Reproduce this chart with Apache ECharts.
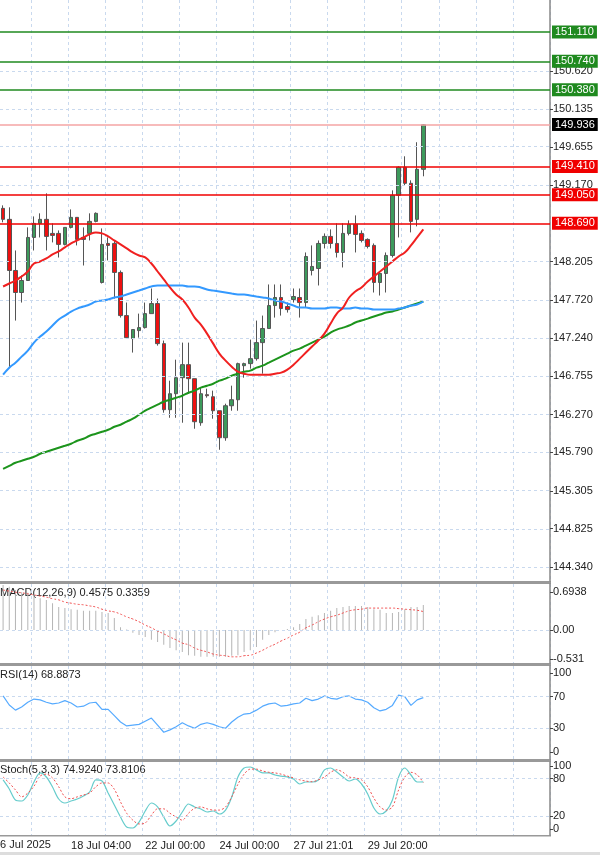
<!DOCTYPE html>
<html>
<head>
<meta charset="utf-8">
<script src="https://cdn.jsdelivr.net/npm/echarts@6/dist/echarts.min.js"></script>
<style>html,body{margin:0;padding:0;background:#fff}#main{width:600px;height:855px}</style>
</head>
<body>
<div id="main"></div>
<script>
// candles: [open, close, low, high]
var candles = [
  [148.879,148.740,148.702,148.917],[148.740,148.093,146.863,148.892],[148.093,147.814,147.459,148.346],
  [147.814,147.966,147.687,148.030],[147.966,148.511,147.966,148.638],[148.511,148.689,148.346,148.777],
  [148.689,148.740,148.511,148.816],[148.740,148.524,148.346,149.069],[148.562,148.537,148.448,148.689],
  [148.562,148.423,148.257,148.600],[148.423,148.638,148.410,148.638],[148.638,148.765,148.625,148.866],
  [148.765,148.486,148.410,148.765],[148.511,148.486,148.156,148.638],[148.562,148.714,148.473,148.816],
  [148.714,148.816,148.702,148.828],[147.941,148.423,147.928,148.625],[148.435,148.410,148.220,148.511],
  [148.435,148.068,147.738,148.473],[148.068,147.522,147.497,148.093],[147.522,147.243,147.231,147.687],
  [147.231,147.345,147.054,147.345],[147.332,147.370,147.243,147.547],[147.370,147.547,147.358,147.687],
  [147.547,147.674,147.547,147.865],[147.674,147.167,147.142,147.738],[147.167,146.331,146.293,147.206],
  [146.331,146.533,146.229,146.698],[146.533,146.736,146.229,146.964],[146.736,146.901,146.166,147.180],
  [146.901,146.724,146.533,147.180],[146.724,146.179,146.090,146.724],[146.166,146.533,146.128,146.610],
  [146.521,146.508,146.483,146.597],[146.495,146.318,146.217,146.572],[146.318,145.976,145.824,146.318],
  [145.976,146.381,145.938,146.407],[146.381,146.457,146.318,146.635],[146.457,146.914,146.318,146.926],
  [146.888,146.914,146.736,146.926],[146.914,146.977,146.850,147.218],[146.977,147.180,146.952,147.459],
  [147.180,147.358,146.787,147.522],[147.358,147.649,147.358,147.916],[147.649,147.751,147.497,147.916],
  [147.751,147.611,147.522,147.916],[147.637,147.598,147.560,147.687],[147.725,147.763,147.687,147.865],
  [147.751,147.687,147.497,147.865],[147.687,148.270,147.624,148.321],[148.093,148.144,148.030,148.410],
  [148.118,148.435,147.903,148.473],[148.435,148.524,148.372,148.562],[148.524,148.435,148.372,148.613],
  [148.435,148.321,148.257,148.689],[148.321,148.562,148.131,148.689],[148.562,148.676,148.537,148.727],
  [148.676,148.549,148.321,148.790],[148.562,148.473,148.448,148.600],[148.486,148.397,148.372,148.499],
  [148.410,147.941,147.814,148.435],[147.941,148.055,147.776,148.068],[148.055,148.283,147.814,148.321],
  [148.283,149.044,148.257,149.107],[149.044,149.399,148.511,149.411],[149.399,149.196,149.170,149.538],
  [149.196,148.714,148.575,149.234],[148.740,149.373,148.651,149.716],[149.373,149.936,149.285,149.945]
];
var maRed = [147.890,147.928,147.966,148.017,148.080,148.181,148.207,148.245,148.296,148.334,148.385,148.435,
  148.473,148.511,148.549,148.575,148.562,148.524,148.473,148.423,148.372,148.321,148.283,148.258,148.181,
  148.080,147.979,147.878,147.789,147.725,147.624,147.497,147.408,147.294,147.167,147.041,146.952,146.876,
  146.812,146.787,146.774,146.774,146.774,146.774,146.787,146.800,146.838,146.901,146.977,147.054,147.130,
  147.206,147.294,147.421,147.548,147.624,147.751,147.827,147.878,147.954,148.017,148.080,148.144,148.207,
  148.270,148.321,148.410,148.511,148.613];
var maBlue = [146.774,146.863,146.926,147.003,147.079,147.180,147.256,147.320,147.396,147.472,147.522,147.573,
  147.611,147.637,147.662,147.700,147.713,147.725,147.751,147.763,147.789,147.814,147.839,147.865,147.890,
  147.903,147.903,147.903,147.903,147.903,147.890,147.890,147.878,147.852,147.839,147.827,147.814,147.801,
  147.789,147.789,147.776,147.763,147.751,147.738,147.713,147.700,147.675,147.649,147.624,147.624,147.611,
  147.611,147.611,147.624,147.624,147.611,147.611,147.624,147.611,147.611,147.598,147.598,147.598,147.598,
  147.611,147.624,147.649,147.662,147.700];
var maGreen = [145.583,145.621,145.659,145.684,145.710,145.735,145.773,145.798,145.824,145.849,145.874,145.900,
  145.938,145.963,146.001,146.026,146.052,146.077,146.115,146.141,146.179,146.217,146.267,146.318,146.356,
  146.394,146.432,146.457,146.483,146.508,146.546,146.572,146.610,146.635,146.660,146.698,146.724,146.762,
  146.787,146.812,146.825,146.863,146.888,146.926,146.965,147.003,147.041,147.079,147.104,147.142,147.180,
  147.218,147.256,147.307,147.345,147.370,147.396,147.434,147.459,147.484,147.510,147.535,147.560,147.573,
  147.598,147.624,147.649,147.675,147.700];
var macdHist = [0.82,0.79,0.73,0.69,0.68,0.62,0.58,0.55,0.49,0.42,0.40,0.38,0.37,0.35,0.35,0.35,0.33,0.31,0.22,
  0.05,0.01,-0.05,-0.09,-0.13,-0.18,-0.22,-0.27,-0.33,-0.37,-0.40,-0.46,-0.47,-0.49,-0.49,-0.49,-0.49,-0.49,
  -0.47,-0.46,-0.40,-0.37,-0.31,-0.18,-0.09,-0.04,0.0,0.02,0.05,0.11,0.20,0.24,0.27,0.31,0.35,0.40,0.42,0.44,
  0.44,0.44,0.42,0.38,0.37,0.31,0.31,0.33,0.38,0.42,0.42,0.4575];
var macdSignal = [0.73,0.71,0.69,0.68,0.66,0.64,0.62,0.60,0.57,0.55,0.51,0.49,0.47,0.46,0.44,0.42,0.38,0.35,
  0.33,0.29,0.24,0.20,0.15,0.09,0.04,-0.02,-0.07,-0.13,-0.18,-0.24,-0.27,-0.33,-0.37,-0.40,-0.44,-0.46,-0.47,
  -0.49,-0.49,-0.47,-0.46,-0.42,-0.37,-0.31,-0.26,-0.20,-0.15,-0.09,-0.04,0.04,0.09,0.15,0.20,0.24,0.27,0.31,
  0.35,0.37,0.38,0.40,0.40,0.40,0.40,0.40,0.39,0.38,0.37,0.36,0.3359];
var rsi = [71,59.5,53,57,63,67,66,63,61,62,65,62,57,58,62,63,54,54,46,38,33,34,35,39,43,34,25,28,32,37,33,30,
  35,37,35,32,30,38,44,48,49,53,58,61,62,58,59,61,62,68,65,67,71,68,67,70,71,67,66,63,56,52,54,59,72,70,59,66,68.9];
var stochK = [77.8,63.5,46,44.4,54,74.6,88.9,82.5,66.7,47.6,41.3,44.4,47.6,52.4,58.7,77.8,76.2,57,38,19,3.2,1.6,
  11,28.6,41.3,35,19,4.8,12.7,27,39.7,35,31.7,27,28.6,23.8,30,50.8,82.5,96.8,98.4,93.7,88.9,88.9,85.7,84,82.5,
  79.4,71.4,74.6,74.6,77.8,93.7,96.8,90.5,82.5,76.2,79.4,71.4,55.6,33.3,23.8,28.6,46,82.5,96.8,85.7,74.6,74.9];
var stochD = [82.5,73,62,51,57,68,84,87,81,67,51,48,51,54,57,67,73,73,63,43,25,14,8,9.5,22,32,32,25,19,14,25,33,
  35,32,30,30,35,51,71,87,95,95,92,90,89,87,84,81,78,76,75,78,82.5,90,94,90,82.5,81,78,67,49,35,30,35,62,82.5,
  90,86,73.8];
var dateLabels = {11:'18 Jul 04:00', 23:'22 Jul 00:00', 35:'24 Jul 00:00', 47:'27 Jul 21:01', 59:'29 Jul 20:00'};
var priceTicks = [144.340,144.825,145.305,145.790,146.270,146.755,147.240,147.720,148.205,149.170,149.655,150.135,150.620];
var greenLevels = [151.110,150.740,150.380];
var redLevels = [149.410,149.050,148.690];
var lastPrice = 149.936;

var slots = 89;
var cats = [];
for (var i = 0; i < slots; i++) cats.push(String(i));

var myChart = echarts.init(document.getElementById('main'));
var font = 'Liberation Sans';
var gridLine = {show: true, lineStyle: {color: '#c9d9ee', type: [3, 3], width: 1}};
var vSplit = {show: true, interval: function (idx) { return idx % 6 === 5; }, lineStyle: gridLine.lineStyle};

function xAx(gi, showLabel) {
    return {
        type: 'category', gridIndex: gi, data: cats, boundaryGap: true,
        axisLine: {show: false}, axisTick: {show: false},
        splitLine: vSplit,
        axisLabel: {
            show: showLabel, interval: 0, align: 'left', margin: 5,
            color: '#222', fontSize: 11, fontFamily: font,
            formatter: function (v, idx) { return dateLabels[idx] || ''; }
        }
    };
}
function yAx(gi, min, max, ticks, fmt) {
    return {
        type: 'value', gridIndex: gi, position: 'right', min: min, max: max, scale: true,
        axisLine: {show: true, lineStyle: {color: '#888', width: 1.5}},
        axisTick: {show: true, customValues: ticks, length: 3, lineStyle: {color: '#444'}},
        splitLine: {show: false},
        axisLabel: {customValues: ticks, color: '#222', fontSize: 11, fontFamily: font, margin: 3,
            formatter: fmt}
    };
}
function gridMarks(vals) {
    return {
        silent: true, symbol: 'none', animation: false,
        label: {show: false},
        lineStyle: gridLine.lineStyle,
        data: vals.map(function (v) { return {yAxis: v}; })
    };
}

var levelMarks = [];
priceTicks.forEach(function (v) {
    levelMarks.push({yAxis: v, lineStyle: gridLine.lineStyle, label: {show: false}});
});
greenLevels.forEach(function (v) {
    levelMarks.push({yAxis: v, lineStyle: {color: '#1f8a1f', width: 1.5, type: 'solid'},
        label: {show: true, position: 'end', distance: 2, formatter: v.toFixed(3), color: '#fff',
            backgroundColor: '#1f8a1f', padding: [1, 3], fontSize: 11, fontFamily: font}});
});
redLevels.forEach(function (v) {
    levelMarks.push({yAxis: v, lineStyle: {color: '#f00000', width: 1.5, type: 'solid'},
        label: {show: true, position: 'end', distance: 2, formatter: v.toFixed(3), color: '#fff',
            backgroundColor: '#f00000', padding: [1, 3], fontSize: 11, fontFamily: font}});
});
levelMarks.push({yAxis: lastPrice, lineStyle: {color: '#f4a4a4', width: 1.5, type: 'solid'},
    label: {show: true, position: 'end', distance: 2, formatter: lastPrice.toFixed(3), color: '#fff',
        backgroundColor: '#000', padding: [1, 3], fontSize: 11, fontFamily: font}});

var option = {
    animation: false,
    textStyle: {fontFamily: font},
    grid: [
        {left: 0, right: 50, top: 0, height: 581},
        {left: 0, right: 50, top: 584, height: 79},
        {left: 0, right: 50, top: 666, height: 93},
        {left: 0, right: 50, top: 762, height: 73}
    ],
    xAxis: [xAx(0, false), xAx(1, false), xAx(2, false), xAx(3, true)],
    yAxis: [
        yAx(0, 144.163, 151.516, priceTicks, function (v) { return v.toFixed(3); }),
        yAx(1, -0.603, 0.840, [-0.531, 0, 0.6938], function (v) { return v === 0 ? '0.00' : String(v); }),
        yAx(2, -8.9, 108.9, [0, 30, 70, 100], function (v) { return String(v); }),
        yAx(3, -9.5, 106.3, [0, 20, 80, 100], function (v) { return String(v); })
    ],
    graphic: [
        {type: 'rect', shape: {x: 0, y: 581, width: 551, height: 3}, style: {fill: '#999'}},
        {type: 'rect', shape: {x: 0, y: 663, width: 551, height: 3}, style: {fill: '#999'}},
        {type: 'rect', shape: {x: 0, y: 759, width: 551, height: 3}, style: {fill: '#999'}},
        {type: 'rect', shape: {x: 0, y: 835, width: 551, height: 1.5}, style: {fill: '#999'}},
        {type: 'rect', shape: {x: 0, y: 852, width: 600, height: 3}, style: {fill: '#ddd'}},
        {type: 'text', x: 0, y: 587, style: {text: 'MACD(12,26,9) 0.4575 0.3359', fill: '#222', font: '11px ' + font}},
        {type: 'text', x: 0, y: 669, style: {text: 'RSI(14) 68.8873', fill: '#222', font: '11px ' + font}},
        {type: 'text', x: 0, y: 764, style: {text: 'Stoch(5,3,3) 74.9240 73.8106', fill: '#222', font: '11px ' + font}},
        {type: 'text', x: -6, y: 839, style: {text: '16 Jul 2025', fill: '#222', font: '11px ' + font}}
    ],
    series: [
        {
            type: 'candlestick', xAxisIndex: 0, yAxisIndex: 0, data: candles, barWidth: 4,
            itemStyle: {color: '#3d9a5c', color0: '#ee1111', borderColor: '#555', borderColor0: '#555', borderWidth: 1},
            markLine: {silent: true, symbol: 'none', animation: false, data: levelMarks}
        },
        {type: 'line', xAxisIndex: 0, yAxisIndex: 0, data: maGreen, showSymbol: false, smooth: true,
            lineStyle: {color: '#1c941c', width: 2}},
        {type: 'line', xAxisIndex: 0, yAxisIndex: 0, data: maBlue, showSymbol: false, smooth: true,
            lineStyle: {color: '#3399ff', width: 2}},
        {type: 'line', xAxisIndex: 0, yAxisIndex: 0, data: maRed, showSymbol: false, smooth: true,
            lineStyle: {color: '#f02020', width: 2}},
        {type: 'bar', xAxisIndex: 1, yAxisIndex: 1, data: macdHist, barWidth: 1,
            itemStyle: {color: '#b5b5b5'}, markLine: gridMarks([0])},
        {type: 'line', xAxisIndex: 1, yAxisIndex: 1, data: macdSignal, showSymbol: false, smooth: true,
            lineStyle: {color: '#f05050', width: 1, type: [2, 2]}},
        {type: 'line', xAxisIndex: 2, yAxisIndex: 2, data: rsi, showSymbol: false,
            lineStyle: {color: '#55aaff', width: 1.2}, markLine: gridMarks([30, 70])},
        {type: 'line', xAxisIndex: 3, yAxisIndex: 3, data: stochK, showSymbol: false, smooth: 0.3,
            lineStyle: {color: '#66cccc', width: 1.2}, markLine: gridMarks([20, 80])},
        {type: 'line', xAxisIndex: 3, yAxisIndex: 3, data: stochD, showSymbol: false, smooth: 0.3,
            lineStyle: {color: '#f05050', width: 1, type: [2, 2]}}
    ]
};
myChart.setOption(option);
</script>
</body>
</html>
